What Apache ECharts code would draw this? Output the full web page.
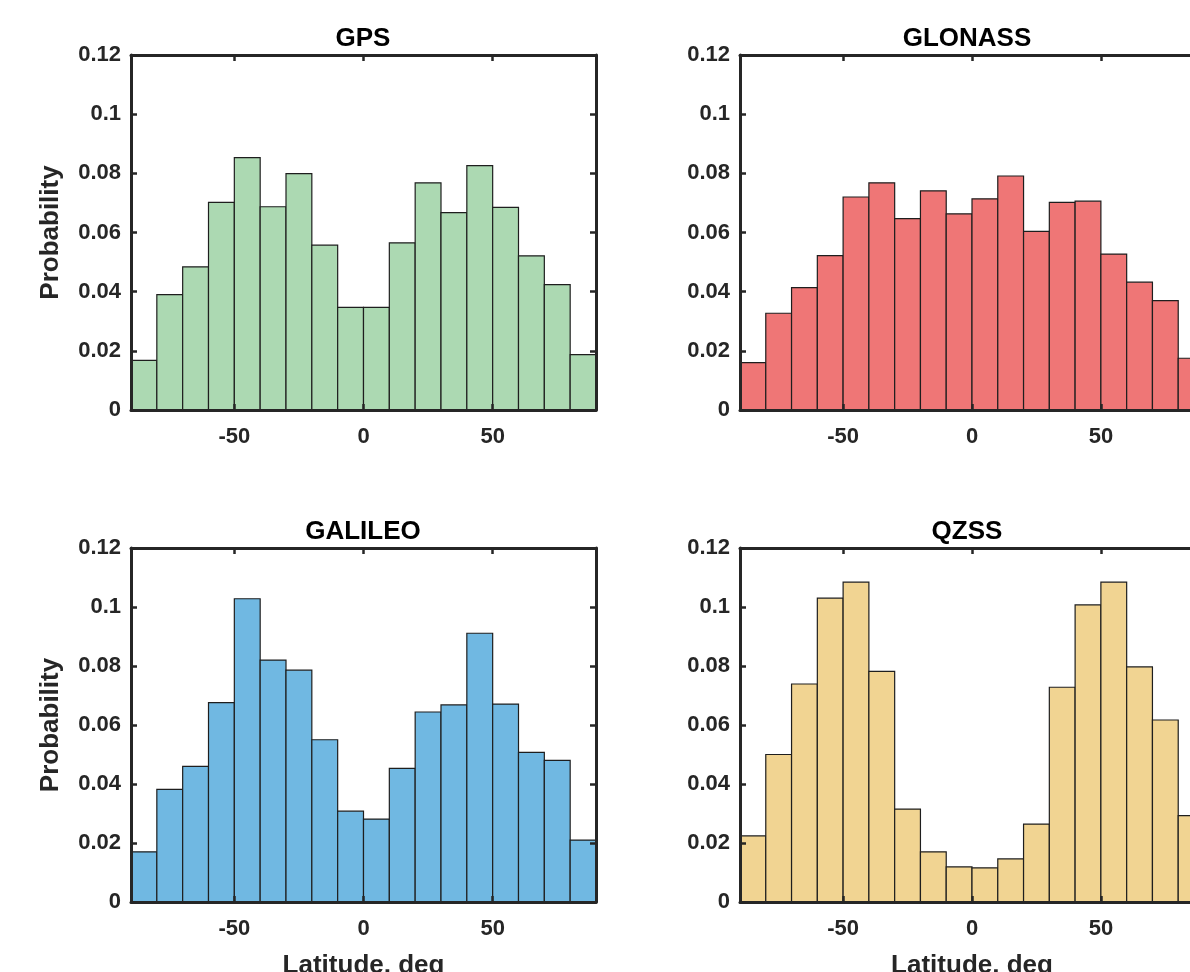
<!DOCTYPE html>
<html>
<head>
<meta charset="utf-8">
<script src="https://cdn.jsdelivr.net/npm/echarts@6/dist/echarts.min.js"></script>
<style>
html,body{margin:0;padding:0;background:#fff;}
#chart{width:1190px;height:972px;}
</style>
</head>
<body>
<div id="chart"></div>
<script>
// Bin edges (latitude, deg)
const binEdges = [-90, -80, -70, -60, -50, -40, -30, -20, -10, 0, 10, 20, 30, 40, 50, 60, 70, 80, 90];
const xTickValues = [-50, 0, 50];
const panelTitles = ['GPS', 'GLONASS', 'GALILEO', 'QZSS'];

const gpsProb = [0.0168, 0.0390, 0.0484, 0.0702, 0.0853, 0.0687, 0.0799, 0.0557, 0.0347, 0.0347, 0.0565, 0.0768, 0.0667, 0.0826, 0.0685, 0.0521, 0.0424, 0.0187];
const glonassProb = [0.0160, 0.0327, 0.0414, 0.0522, 0.0720, 0.0768, 0.0647, 0.0741, 0.0663, 0.0714, 0.0791, 0.0604, 0.0702, 0.0706, 0.0527, 0.0432, 0.0370, 0.0175];
const galileoProb = [0.0170, 0.0382, 0.0460, 0.0676, 0.1028, 0.0820, 0.0786, 0.0550, 0.0308, 0.0281, 0.0453, 0.0644, 0.0668, 0.0911, 0.0671, 0.0507, 0.0480, 0.0210];
const qzssProb = [0.0224, 0.0500, 0.0739, 0.1030, 0.1084, 0.0782, 0.0315, 0.0170, 0.0119, 0.0116, 0.0146, 0.0264, 0.0728, 0.1007, 0.1084, 0.0797, 0.0617, 0.0293];

const panelData = [gpsProb, glonassProb, galileoProb, qzssProb];
const panelColors = ['#acd9b2', '#ef7676', '#70b8e2', '#f1d492'];

const FONT = '"Liberation Sans", Arial, Helvetica, sans-serif';
const INK = '#262626';

const grids = [
  {left: 131, top: 55, width: 465, height: 355, outerBoundsMode: 'none', containLabel: false},
  {left: 740, top: 55, width: 464, height: 355, outerBoundsMode: 'none', containLabel: false},
  {left: 131, top: 548, width: 465, height: 354, outerBoundsMode: 'none', containLabel: false},
  {left: 740, top: 548, width: 464, height: 354, outerBoundsMode: 'none', containLabel: false}
];
const titleCenters = [[358, 21], [962, 21], [358, 514], [962, 514]];

const xAxes = [], yAxes = [], series = [], titles = [];
const lineStyle = {color: INK, width: 3};
const tickStyle = {color: INK, width: 2.5};
const labelStyle = {color: INK, fontFamily: FONT, fontWeight: 'bold', fontSize: 22};

grids.forEach((g, i) => {
  const bottomRow = i >= 2;
  xAxes.push({
    gridIndex: i, type: 'value', min: -90, max: 90, position: 'bottom', z: 10,
    axisLine: {show: true, onZero: false, lineStyle},
    axisTick: {show: true, inside: true, length: 6, customValues: xTickValues, lineStyle: tickStyle},
    axisLabel: Object.assign({show: true, margin: 16, customValues: xTickValues}, labelStyle),
    splitLine: {show: false},
    name: bottomRow ? 'Latitude, deg' : '',
    nameLocation: 'middle', nameGap: 51,
    nameTextStyle: {color: INK, fontFamily: FONT, fontWeight: 'bold', fontSize: 26}
  });
  xAxes.push({
    gridIndex: i, type: 'value', min: -90, max: 90, position: 'top', z: 10,
    axisLine: {show: true, onZero: false, lineStyle},
    axisTick: {show: true, inside: true, length: 6, customValues: xTickValues, lineStyle: tickStyle},
    axisLabel: {show: false},
    splitLine: {show: false}
  });
  yAxes.push({
    gridIndex: i, type: 'value', min: 0, max: 0.12, interval: 0.02, position: 'left', z: 10,
    axisLine: {show: true, onZero: false, lineStyle},
    axisTick: {show: true, inside: true, length: 6, lineStyle: tickStyle},
    axisLabel: Object.assign({show: true, margin: 10, formatter: v => String(+v.toFixed(2))}, labelStyle),
    splitLine: {show: false},
    name: (i % 2 === 0) ? 'Probability' : '',
    nameLocation: 'middle', nameGap: 67,
    nameTextStyle: {color: INK, fontFamily: FONT, fontWeight: 'bold', fontSize: 26}
  });
  yAxes.push({
    gridIndex: i, type: 'value', min: 0, max: 0.12, interval: 0.02, position: 'right', z: 10,
    axisLine: {show: true, onZero: false, lineStyle},
    axisTick: {show: true, inside: true, length: 6, lineStyle: tickStyle},
    axisLabel: {show: false},
    splitLine: {show: false}
  });
  const vals = panelData[i];
  const data = vals.map((v, k) => [binEdges[k], binEdges[k + 1], v]);
  const color = panelColors[i];
  series.push({
    type: 'custom',
    xAxisIndex: 2 * i, yAxisIndex: 2 * i,
    z: 2,
    data: data,
    encode: {x: [0, 1], y: 2},
    renderItem: function (params, api) {
      const p0 = api.coord([api.value(0), api.value(2)]);
      const p1 = api.coord([api.value(1), 0]);
      return {
        type: 'rect',
        shape: {x: p0[0], y: p0[1], width: p1[0] - p0[0], height: p1[1] - p0[1]},
        style: {fill: color, stroke: '#1e1e1e', lineWidth: 1.2}
      };
    }
  });
  titles.push({
    text: panelTitles[i],
    left: titleCenters[i][0], top: titleCenters[i][1],
    textAlign: 'center',
    textStyle: {color: '#000', fontFamily: FONT, fontWeight: 'bold', fontSize: 26}
  });
});

const chart = echarts.init(document.getElementById('chart'), null, {renderer: 'canvas'});
chart.setOption({
  animation: false,
  backgroundColor: '#ffffff',
  title: titles,
  grid: grids,
  xAxis: xAxes,
  yAxis: yAxes,
  series: series
});
</script>
</body>
</html>
